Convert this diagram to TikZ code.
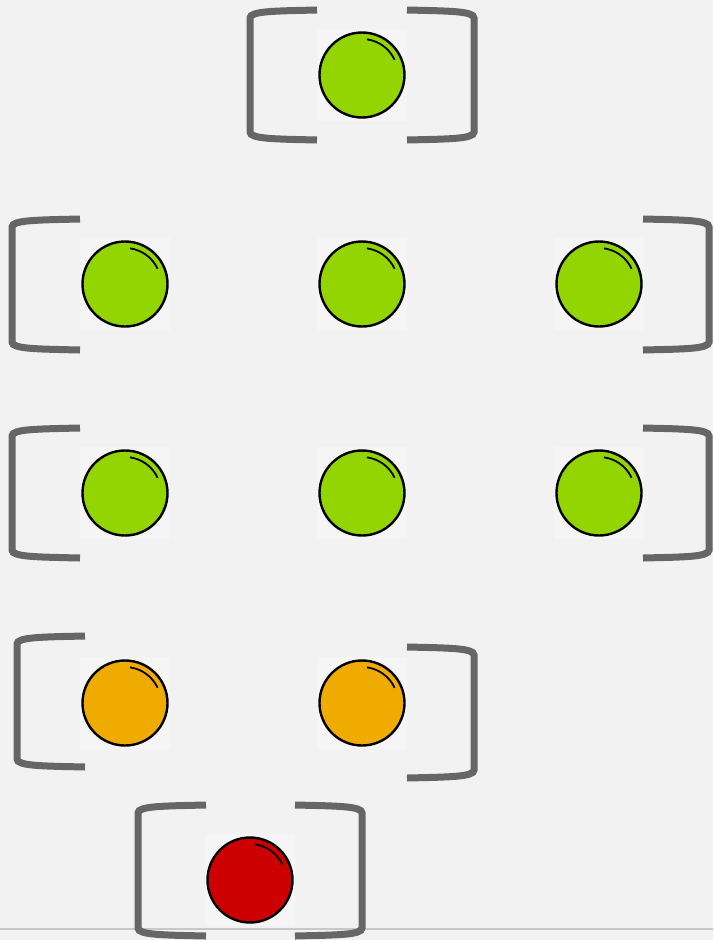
\documentclass[tikz,border=0pt]{standalone}
\usetikzlibrary{calc}
\definecolor{bg}{RGB}{242,242,242}
\definecolor{tilebg}{RGB}{245,245,245}
\definecolor{frame}{RGB}{102,102,102}
\definecolor{go}{RGB}{147,213,0}
\definecolor{wait}{RGB}{240,171,0}
\definecolor{halt}{RGB}{204,0,0}
\definecolor{rulegray}{RGB}{200,200,200}
\tikzset{
  tile/.style={fill=tilebg, minimum width=90pt, minimum height=92pt, inner sep=0pt},
  lamp/.style={circle, draw=black, line width=2.4pt, fill=#1, minimum size=85pt, inner sep=0pt,
    path picture={\draw[line width=1.8pt] (path picture bounding box.center) ++(82:36pt)
      arc[start angle=82, end angle=25, radius=36pt];}},
  brk/.style={draw=frame, line width=7pt}
}

\begin{document}
\begin{tikzpicture}[x=1pt, y=-1pt]
  \fill[bg] (0,0) rectangle (713,940);
  \useasboundingbox (0,0) rectangle (713,940);
  \draw[draw=rulegray, line width=1.2pt] (0,929) -- (713,929);
  % lamps
  \foreach \n/\x/\y/\c in {g1/362/75/go, g21/125/284/go, g22/362/284/go, g23/599/284/go,
      g31/125/493/go, g32/362/493/go, g33/599/493/go, o1/125/703/wait, o2/362/703/wait,
      r1/250/880/halt}{
    \node[tile] (t\n) at (\x,\y) {};
    \node[lamp=\c] (\n) at (t\n) {};
  }
  % left brackets
  \foreach \x/\e/\t/\b in {250/317/10/140, 12/80/219/350, 12/80/428/558, 17/85/636/767, 138/206/805/936}
    \draw[brk] (\e,\t) .. controls ({\x+25},{\t+1}) and (\x,{\t+1}) .. (\x,{\t+8})
      -- (\x,{\b-8}) .. controls (\x,{\b-1}) and ({\x+25},{\b-1}) .. (\e,\b);
  % right brackets
  \foreach \x/\e/\t/\b in {474/407/10/140, 709/643/219/350, 709/643/428/558, 474/407/647/778, 362/295/805/936}
    \draw[brk] (\e,\t) .. controls ({\x-25},{\t+1}) and (\x,{\t+1}) .. (\x,{\t+8})
      -- (\x,{\b-8}) .. controls (\x,{\b-1}) and ({\x-25},{\b-1}) .. (\e,\b);
\end{tikzpicture}
\end{document}
